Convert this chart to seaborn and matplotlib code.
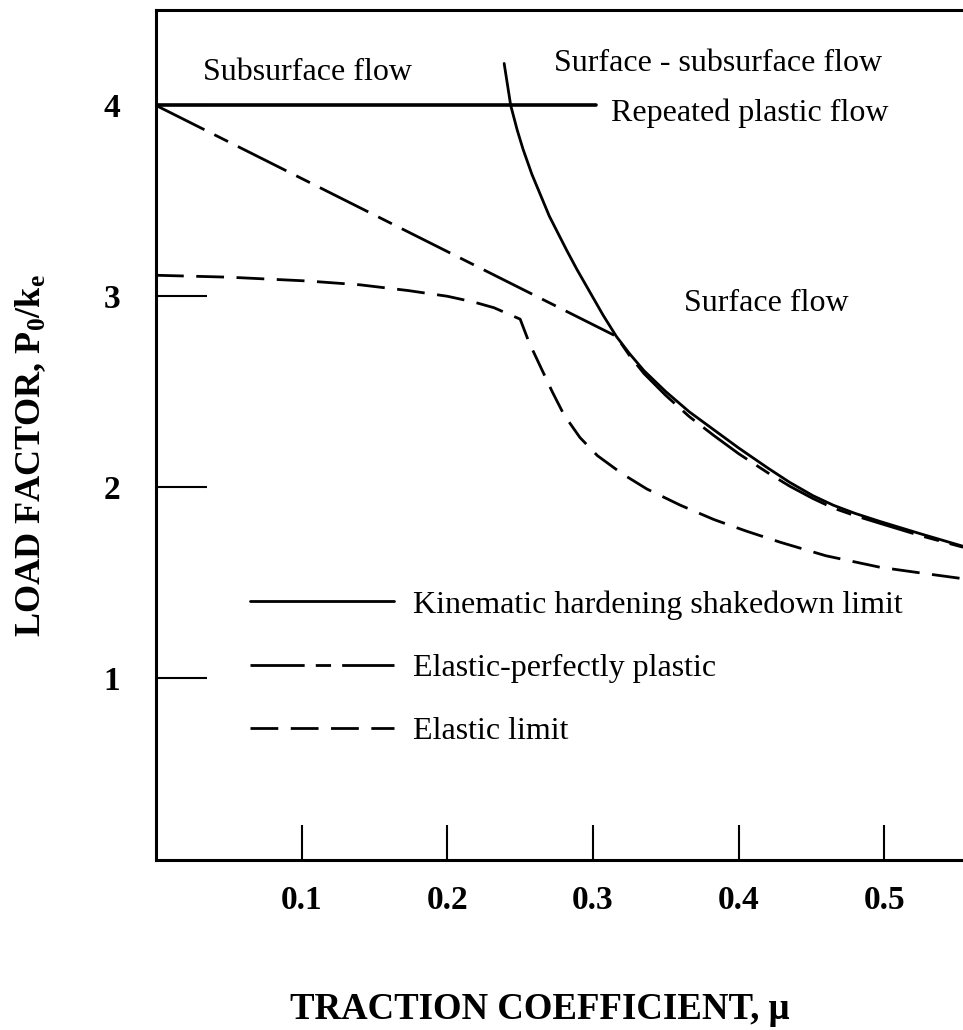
import numpy as np
import pandas as pd
import matplotlib
matplotlib.use("Agg")
import matplotlib.pyplot as plt
import seaborn as sns

# ---- data ----
mu_kin_flat = [0.0, 0.302]
p_kin_flat = [4.0, 4.0]

mu_kin = [0.239, 0.2435, 0.248, 0.252, 0.258, 0.264, 0.270, 0.276, 0.282, 0.289,
          0.298, 0.307, 0.316, 0.325, 0.335, 0.35, 0.366, 0.383, 0.40, 0.42,
          0.435, 0.451, 0.465, 0.48, 0.497, 0.525, 0.554]
p_kin = [4.22, 4.0, 3.87, 3.77, 3.64, 3.53, 3.42, 3.33, 3.24, 3.14,
         3.02, 2.90, 2.79, 2.70, 2.61, 2.50, 2.395, 2.30, 2.205, 2.10,
         2.025, 1.955, 1.905, 1.862, 1.82, 1.755, 1.69]

mu_epp = [0.0, 0.316, 0.325, 0.335, 0.35, 0.366, 0.383, 0.40, 0.42, 0.435,
          0.451, 0.465, 0.48, 0.497, 0.525, 0.554]
p_epp = [4.0, 2.79, 2.69, 2.595, 2.48, 2.37, 2.27, 2.175, 2.075, 2.005,
         1.94, 1.89, 1.85, 1.81, 1.745, 1.685]

mu_el = [0.0, 0.05, 0.104, 0.14, 0.173, 0.20, 0.218, 0.232, 0.241, 0.250,
         0.256, 0.264, 0.272, 0.280, 0.291, 0.303, 0.32, 0.337, 0.36, 0.383,
         0.405, 0.429, 0.46, 0.497, 0.525, 0.554]
p_el = [3.11, 3.10, 3.08, 3.06, 3.03, 3.00, 2.97, 2.94, 2.91, 2.88,
        2.76, 2.63, 2.50, 2.38, 2.26, 2.165, 2.07, 1.99, 1.905, 1.83,
        1.77, 1.71, 1.64, 1.58, 1.55, 1.52]

x_ticks = [0.1, 0.2, 0.3, 0.4, 0.5]
x_ticklabels = ["0.1", "0.2", "0.3", "0.4", "0.5"]
y_ticks = [1, 2, 3, 4]
y_ticklabels = ["1", "2", "3", "4"]

legend_labels = ["Kinematic hardening shakedown limit",
                 "Elastic-perfectly plastic",
                 "Elastic limit"]
region_labels = ["Subsurface flow", "Surface - subsurface flow",
                 "Repeated plastic flow", "Surface flow"]

# ---- style ----
sns.set_theme(style="white")
plt.rcParams["font.family"] = ["Liberation Serif", "DejaVu Serif"]
plt.rcParams["mathtext.fontset"] = "custom"
plt.rcParams["mathtext.rm"] = "Liberation Serif"
plt.rcParams["mathtext.bf"] = "Liberation Serif:bold"
plt.rcParams["mathtext.it"] = "Liberation Serif:italic"
plt.rcParams["lines.scale_dashes"] = False
plt.rcParams["text.color"] = "black"
plt.rcParams["axes.labelcolor"] = "black"
plt.rcParams["xtick.color"] = "black"
plt.rcParams["ytick.color"] = "black"

fig = plt.figure(figsize=(9.63, 10.30), dpi=100)
ax = fig.add_axes([156 / 963, 170 / 1030, 1 - 156 / 963, 850 / 1030])

LW = 2.0
ls_epp = (0, (39, 8, 11, 8))
ls_el = (0, (20, 9))

df_kf = pd.DataFrame({"mu": mu_kin_flat, "p": p_kin_flat})
df_k = pd.DataFrame({"mu": mu_kin, "p": p_kin})
df_e = pd.DataFrame({"mu": mu_epp, "p": p_epp})
df_l = pd.DataFrame({"mu": mu_el, "p": p_el})

sns.lineplot(data=df_kf, x="mu", y="p", ax=ax, color="black", lw=2.6,
             sort=False, estimator=None)
sns.lineplot(data=df_k, x="mu", y="p", ax=ax, color="black", lw=LW,
             sort=False, estimator=None)
sns.lineplot(data=df_e, x="mu", y="p", ax=ax, color="black", lw=LW,
             linestyle=ls_epp, sort=False, estimator=None)
sns.lineplot(data=df_l, x="mu", y="p", ax=ax, color="black", lw=LW,
             linestyle=ls_el, sort=False, estimator=None)

lines = ax.get_lines()
handles = [lines[1], lines[2], lines[3]]
leg = ax.legend(handles, legend_labels, loc="upper left",
                bbox_to_anchor=((250 - 156) / 807, (860 - 590) / 850),
                frameon=False, fontsize=23, handlelength=4.5,
                handletextpad=0.6, labelspacing=1.06, borderpad=0,
                borderaxespad=0, labelcolor="black")

ax.set_xlim(0, 0.554)
ax.set_ylim(0.046, 4.50)

ax.set_xticks(x_ticks)
ax.set_xticklabels(x_ticklabels, fontsize=24, fontweight="bold")
ax.set_yticks(y_ticks)
ax.set_yticklabels(y_ticklabels, fontsize=24, fontweight="bold")
ax.tick_params(axis="y", direction="in", length=37, width=1.5, pad=26,
               colors="black", left=True)
ax.tick_params(axis="x", direction="in", length=25, width=1.5, pad=18,
               colors="black", bottom=True)

for side in ["left", "top", "bottom"]:
    ax.spines[side].set_color("black")
    ax.spines[side].set_linewidth(2.2)
ax.spines["right"].set_visible(False)

ax.set_xlabel("TRACTION COEFFICIENT, μ", fontsize=26.5, fontweight="bold",
              color="black")
ax.xaxis.set_label_coords((540 - 156) / 807, (860 - 992) / 850)
ax.set_ylabel(r"LOAD FACTOR, P$_\mathbf{0}$/k$_\mathbf{e}$", fontsize=26,
              fontweight="bold", color="black")
ax.yaxis.set_label_coords((48 - 156) / 807, (860 - 456) / 850)

def px2d(px, py):
    return (px - 155) / 1458, (868.7 - py) / 190.7

for (lbl, (px, py)) in zip(region_labels,
                           [(202, 80), (553, 72), (610, 121), (683, 311)]):
    xd, yd = px2d(px, py)
    ax.text(xd, yd, lbl, fontsize=23, ha="left", va="baseline", color="black")

fig.savefig("out.png", dpi=100)
